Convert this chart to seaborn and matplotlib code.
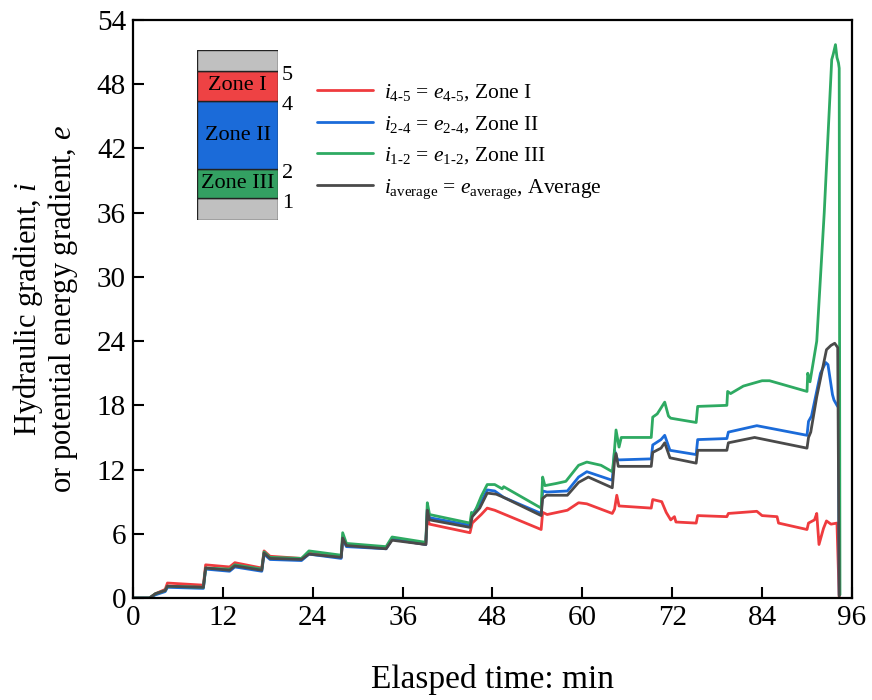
import matplotlib
matplotlib.use("Agg")
import matplotlib.pyplot as plt
import seaborn as sns
import pandas as pd

# ---------------- data ----------------
t_red = [0, 2.2, 3.0, 4.3, 4.6, 9.4, 9.7, 12.9, 13.6, 17.2, 17.5, 18.3, 22.5, 23.5, 27.8, 28.0, 28.5,
         33.8, 34.6, 39.1, 39.3, 39.6, 45.0, 45.3, 46.5, 47.3, 48.3, 54.5, 54.7, 55.3, 58.0, 59.5,
         60.6, 64.0, 64.3, 64.6, 64.9, 69.2, 69.4, 70.6, 71.2, 71.8, 72.3, 72.5, 75.2, 75.4, 79.3,
         79.5, 83.3, 84.0, 86.0, 86.2, 90.0, 90.2, 91.0, 91.3, 91.6, 92.2, 92.6, 93.2, 94.0, 94.3]
i_red = [0, 0, 0.4, 0.8, 1.4, 1.2, 3.1, 2.9, 3.3, 2.8, 4.4, 3.9, 3.7, 4.2, 3.8, 5.4, 5.0,
         4.7, 5.5, 5.0, 7.4, 6.9, 6.1, 7.0, 7.8, 8.4, 8.2, 6.4, 8.0, 7.8, 8.2, 8.9,
         8.8, 7.9, 8.3, 9.6, 8.6, 8.4, 9.2, 9.0, 8.0, 7.3, 7.6, 7.1, 7.0, 7.7, 7.6,
         7.9, 8.1, 7.7, 7.6, 7.0, 6.4, 7.0, 7.3, 7.9, 5.0, 6.5, 7.2, 6.9, 7.0, 0.0]

t_blue = [0, 2.2, 3.0, 4.3, 4.6, 9.4, 9.7, 12.9, 13.6, 17.2, 17.5, 18.3, 22.5, 23.5, 27.8, 28.0, 28.5,
          33.8, 34.6, 39.1, 39.3, 39.6, 45.0, 45.3, 46.5, 47.3, 48.3, 49.5, 54.5, 54.7, 55.3, 58.0,
          59.5, 60.6, 64.0, 64.3, 64.7, 69.2, 69.4, 70.5, 71.0, 71.7, 75.2, 75.4, 79.3, 79.5, 83.3,
          90.0, 90.2, 90.6, 91.8, 92.5, 92.8, 93.4, 93.6, 94.0, 94.2, 94.3]
i_blue = [0, 0, 0.3, 0.6, 1.0, 0.9, 2.7, 2.5, 2.9, 2.5, 4.1, 3.6, 3.5, 4.1, 3.7, 5.5, 4.8,
          4.6, 5.5, 5.0, 8.3, 7.5, 6.8, 7.8, 9.0, 10.1, 10.0, 9.4, 7.9, 10.0, 9.9, 10.0,
          11.3, 11.8, 11.0, 13.8, 12.9, 13.0, 14.3, 14.8, 15.2, 13.8, 13.4, 14.8, 14.9, 15.5, 16.1,
          15.2, 16.5, 17.0, 21.0, 22.0, 21.8, 19.0, 18.5, 18.0, 17.8, 0.3]

t_green = [0, 2.2, 3.0, 4.3, 4.6, 9.4, 9.7, 12.9, 13.6, 17.2, 17.5, 18.3, 22.5, 23.5, 27.8, 28.0, 28.5,
           33.8, 34.6, 39.1, 39.3, 39.6, 45.0, 45.2, 45.5, 46.5, 47.3, 48.3, 49.3, 49.5, 54.5, 54.7,
           55.0, 56.5, 57.8, 59.5, 60.6, 62.5, 64.0, 64.2, 64.5, 64.9, 65.2, 69.2, 69.4, 70.0, 71.0,
           71.5, 71.8, 75.2, 75.4, 79.3, 79.4, 79.8, 81.5, 84.0, 85.0, 90.0, 90.1, 90.4, 91.3, 92.3,
           93.0, 93.3, 93.5, 93.8, 94.0, 94.2, 94.3, 94.35, 94.4]
i_green = [0, 0, 0.4, 0.7, 1.1, 1.0, 2.8, 2.7, 3.1, 2.7, 4.3, 3.8, 3.7, 4.4, 4.0, 6.1, 5.1,
           4.8, 5.7, 5.2, 8.9, 7.8, 7.0, 8.0, 7.8, 9.5, 10.6, 10.6, 10.2, 10.4, 8.4, 11.3,
           10.5, 10.7, 10.9, 12.4, 12.7, 12.4, 11.8, 13.0, 15.7, 14.1, 15.0, 15.0, 16.9, 17.2, 18.3,
           17.0, 16.8, 16.4, 17.9, 18.0, 19.3, 19.1, 19.8, 20.3, 20.3, 19.3, 21.0, 20.2, 24.0, 36.0,
           46.0, 50.3, 50.8, 51.7, 50.5, 50.0, 49.5, 23.0, 0.3]

t_avg = [0, 2.2, 3.0, 4.3, 4.6, 9.4, 9.7, 12.9, 13.6, 17.2, 17.5, 18.3, 22.5, 23.5, 27.8, 28.0, 28.5,
         33.8, 34.6, 39.1, 39.3, 39.6, 45.0, 45.3, 46.3, 47.3, 48.5, 49.5, 54.5, 54.7, 55.2, 58.0,
         59.5, 60.8, 64.0, 64.3, 64.5, 64.8, 69.2, 69.4, 70.5, 71.0, 71.7, 75.2, 75.4, 79.3, 79.5,
         83.0, 90.0, 90.2, 90.5, 91.3, 92.6, 93.2, 93.7, 94.1, 94.3]
i_avg = [0, 0, 0.4, 0.7, 1.1, 1.0, 2.8, 2.6, 3.0, 2.6, 4.2, 3.7, 3.6, 4.1, 3.8, 5.6, 4.9,
         4.6, 5.4, 5.0, 8.2, 7.3, 6.6, 7.6, 8.4, 9.8, 9.7, 9.4, 7.7, 9.3, 9.6, 9.6,
         10.8, 11.3, 10.3, 12.8, 13.5, 12.3, 12.3, 13.6, 14.0, 14.5, 13.1, 12.6, 13.8, 13.8, 14.5,
         15.0, 14.0, 15.0, 15.5, 18.8, 23.2, 23.6, 23.8, 23.4, 0.2]

series_labels = [r"$i_{\text{4-5}}$ = $e_{\text{4-5}}$, Zone I",
                 r"$i_{\text{2-4}}$ = $e_{\text{2-4}}$, Zone II",
                 r"$i_{\text{1-2}}$ = $e_{\text{1-2}}$, Zone III",
                 r"$i_{\text{average}}$ = $e_{\text{average}}$, Average"]
series_colors = ["#EF3B3E", "#1B6BD9", "#2EAA62", "#4A4A4A"]

x_ticks = [0, 12, 24, 36, 48, 60, 72, 84, 96]
y_ticks = [0, 6, 12, 18, 24, 30, 36, 42, 48, 54]

zone_names = ["", "Zone III", "Zone II", "Zone I", ""]
zone_colors = ["#C0C0C0", "#33A062", "#1B6BD9", "#EE4244", "#C0C0C0"]
zone_heights = [22, 29, 68, 30, 21]
zone_marks = ["1", "2", "4", "5"]

# ---------------- style ----------------
sns.set_theme(style="ticks")
plt.rcParams["font.family"] = ["Liberation Serif", "DejaVu Serif"]
plt.rcParams["mathtext.fontset"] = "custom"
plt.rcParams["mathtext.rm"] = "Liberation Serif"
plt.rcParams["mathtext.it"] = "Liberation Serif:italic"
plt.rcParams["mathtext.bf"] = "Liberation Serif:bold"
for k in ["text.color", "axes.labelcolor", "xtick.color", "ytick.color", "axes.edgecolor"]:
    plt.rcParams[k] = "black"

fig = plt.figure(figsize=(8.72, 7.0), dpi=100)
ax = fig.add_axes([0.1525, 0.1457, 0.8245, 0.8257])

frames = []
for t, v, lab in zip([t_red, t_blue, t_green, t_avg], [i_red, i_blue, i_green, i_avg], series_labels):
    frames.append(pd.DataFrame({"t": t, "v": v, "s": lab}))
df = pd.concat(frames, ignore_index=True)

for lab, col in zip(series_labels, series_colors):
    sub = df[df["s"] == lab]
    sns.lineplot(data=sub, x="t", y="v", ax=ax, color=col, lw=2.0, label=lab,
                 estimator=None, sort=False)

ax.set_xlim(0, 96)
ax.set_ylim(0, 54)
ax.set_xticks(x_ticks)
ax.set_yticks(y_ticks)
ax.tick_params(axis="both", direction="in", length=8, width=1.5, labelsize=21,
               top=False, right=False, pad=5)
for sp in ax.spines.values():
    sp.set_linewidth(1.6)
    sp.set_color("black")
ax.set_xlabel("Elasped time: min", fontsize=24, labelpad=24)
ax.set_ylabel("Hydraulic gradient, $i$\nor potential energy gradient, $e$", fontsize=22,
              labelpad=12, linespacing=1.05)

leg = ax.legend(loc="upper left", bbox_to_anchor=(0.229, 0.926), frameon=False, fontsize=15.5,
                handlelength=2.6, handletextpad=0.5, labelspacing=0.5)

# inset column
axi = fig.add_axes([197 / 872, 1 - 220 / 700, 81 / 872, 170 / 700])
bottom = 0
for h, c, n in zip(zone_heights, zone_colors, zone_names):
    axi.bar(0, h, bottom=bottom, width=1.0, color=c, edgecolor="#222222", linewidth=1.0)
    if n:
        axi.text(0, bottom + h / 2, n, ha="center", va="center", fontsize=16)
    bottom += h
axi.set_xlim(-0.5, 0.5)
axi.set_ylim(0, sum(zone_heights))
axi.axis("off")
cum = 0
bounds = []
for h in zone_heights[:-1]:
    cum += h
    bounds.append(cum)
for b, m in zip(bounds, zone_marks):
    axi.text(0.55, b - 5, m, ha="left", va="center", fontsize=16, clip_on=False)

fig.savefig("out.png", dpi=100)
